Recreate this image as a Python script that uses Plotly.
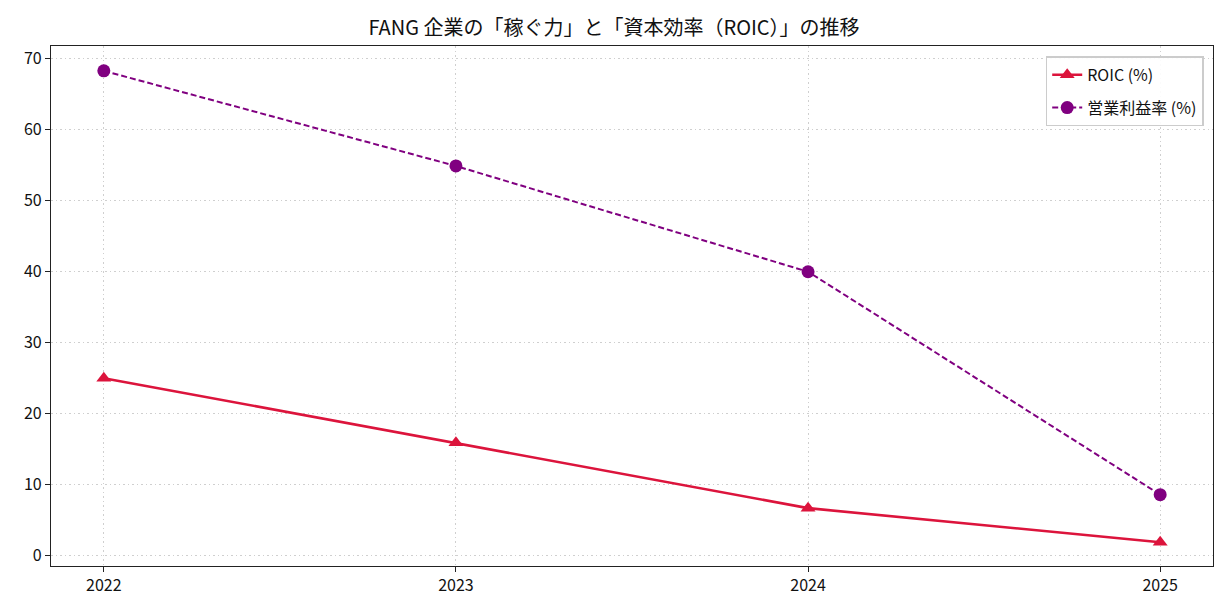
import plotly.graph_objects as go

years = [2022, 2023, 2024, 2025]
roic = [24.9, 15.8, 6.6, 1.8]
op_margin = [68.2, 54.8, 39.9, 8.5]
title_text = "FANG 企業の「稼ぐ力」と「資本効率（ROIC）」の推移"
y_ticks = [0, 10, 20, 30, 40, 50, 60, 70]

FONT = "Noto Sans CJK JP"

fig = go.Figure()
fig.add_trace(go.Scatter(
    x=years, y=roic, mode="lines+markers", name="ROIC (%)",
    line=dict(color="#DC143C", width=2.6),
    marker=dict(symbol="triangle-up", size=13, color="#DC143C"),
    legendgroup="a",
))
fig.add_trace(go.Scatter(
    x=years, y=op_margin, mode="lines+markers", name="営業利益率 (%)",
    line=dict(color="#800080", width=2, dash="6px,3px"),
    marker=dict(symbol="circle", size=13, color="#800080"),
    legendgroup="b",
))

axis_common = dict(
    showline=True, linecolor="#222222", linewidth=1.3, mirror=True,
    ticks="outside", ticklen=5, tickwidth=1.3, tickcolor="#222222",
    showgrid=True, gridcolor="#cfcfcf", griddash="1.5px,3px", gridwidth=1,
    zeroline=False, tickfont=dict(family=FONT, size=16, color="#111111"),
)

fig.update_layout(
    width=1228, height=616,
    margin=dict(l=51, r=15, t=46, b=50),
    paper_bgcolor="white", plot_bgcolor="white",
    font=dict(family=FONT, color="#111111"),
    title=dict(text=title_text, x=0.5, xanchor="center", y=0.955, yanchor="middle",
               font=dict(family=FONT, size=20, color="#111111")),
    xaxis=dict(range=[2021.85, 2025.15], tickvals=years, ticktext=[str(y) for y in years], **axis_common),
    yaxis=dict(range=[-1.55, 71.7], tickvals=y_ticks, **axis_common),
    legend=dict(x=0.992, y=0.98, xanchor="right", yanchor="top",
                bgcolor="rgba(255,255,255,0.9)", bordercolor="#cccccc", borderwidth=1.5,
                font=dict(family=FONT, size=16), traceorder="grouped", tracegroupgap=9),
    showlegend=True,
)

fig.write_html("out.html")
